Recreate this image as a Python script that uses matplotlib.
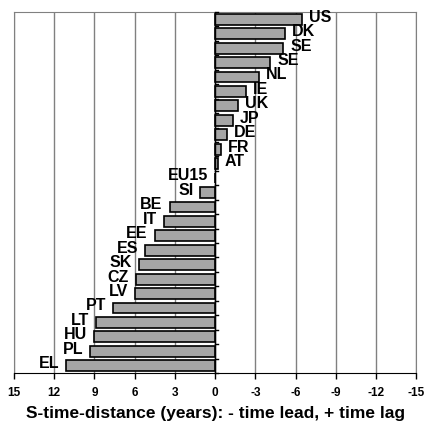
import matplotlib.pyplot as plt

plt.rcParams["font.family"] = ["Liberation Sans", "DejaVu Sans"]
plt.rcParams["axes.unicode_minus"] = False

# data (negative = time lead, positive = time lag)
countries = ["US", "DK", "SE", "SE", "NL", "IE", "UK", "JP", "DE", "FR", "AT",
             "EU15", "SI", "BE", "IT", "EE", "ES", "SK", "CZ", "LV", "PT",
             "LT", "HU", "PL", "EL"]
values = [-6.5, -5.2, -5.1, -4.1, -3.3, -2.3, -1.7, -1.3, -0.9, -0.45, -0.2,
          0.0, 1.1, 3.4, 3.85, 4.5, 5.2, 5.7, 5.9, 6.0, 7.6,
          8.9, 9.0, 9.3, 11.1]
xticks = [15, 12, 9, 6, 3, 0, -3, -6, -9, -12, -15]

fig = plt.figure(figsize=(4.26, 4.28), dpi=100)
ax = fig.add_axes([0.033, 0.1285, 0.944, 0.8435])

pos = list(range(len(countries)))
ax.barh(pos, values, height=0.75, color="#a6a6a6", edgecolor="black",
        linewidth=1.2, zorder=3)

for i, (name, v) in enumerate(zip(countries, values)):
    if v < 0:
        ax.annotate(name, (v, i), xytext=(5, 1.5), textcoords="offset points",
                    ha="left", va="center", fontsize=11.5, fontweight="bold")
    else:
        ax.annotate(name, (v, i), xytext=(-5, 1.5), textcoords="offset points",
                    ha="right", va="center", fontsize=11.5, fontweight="bold")

ax.set_xlim(15, -15)
ax.set_ylim(len(countries) - 0.5, -0.5)
ax.set_xticks(xticks)
ax.set_xticklabels([str(t) for t in xticks], fontsize=8.5, fontweight="bold")
ax.tick_params(axis="x", direction="out", length=4, width=1, pad=6)
ax.set_yticks([])

ax.grid(axis="x", color="#808080", linewidth=1, zorder=0)
for s in ["top", "left", "right"]:
    ax.spines[s].set_color("#808080")
ax.spines["bottom"].set_color("black")
ax.spines["bottom"].set_zorder(4)

# vertical axis at zero with category tick marks
ax.axvline(0, color="black", linewidth=1, zorder=4)
for k in range(len(countries) + 1):
    ax.plot([0, -0.2], [k - 0.5, k - 0.5], color="black", linewidth=1,
            zorder=4, clip_on=False)

ax.set_xlabel("S-time-distance (years): - time lead, + time lag",
              fontsize=12.5, fontweight="bold", labelpad=5)

fig.savefig("out.png", dpi=100)
